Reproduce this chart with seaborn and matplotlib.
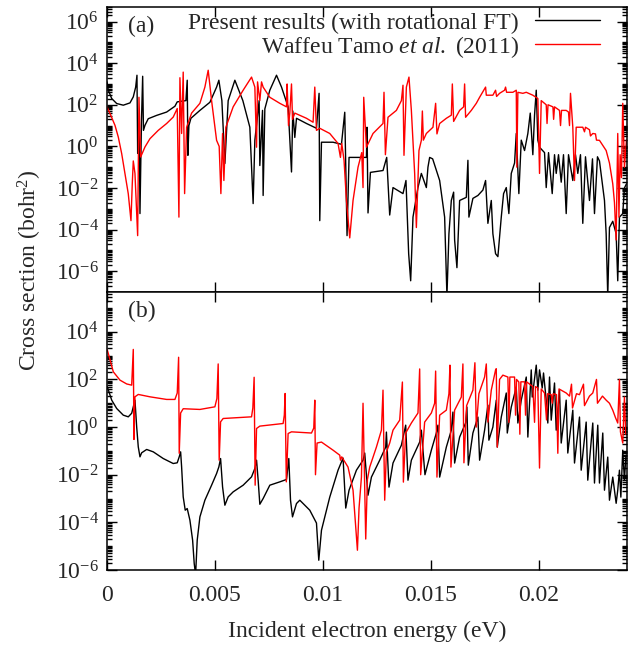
import numpy as np
import pandas as pd
import matplotlib
matplotlib.use("Agg")
import matplotlib.pyplot as plt
import matplotlib.ticker as mticker
import seaborn as sns

# ---------------- data ----------------
# energies in meV (converted to eV below), cross sections as log10(bohr^2)
a_black_E = [0.000, 0.060, 0.218, 0.449, 0.755, 1.065, 1.218, 1.329, 1.389, 1.421, 1.495, 1.528, 1.597, 1.653,
             1.690, 1.759, 1.912, 2.301, 2.764, 3.148, 3.255, 3.657, 3.718, 3.750, 3.796, 3.889, 4.306, 4.769,
             5.079, 5.185, 5.324, 5.463, 5.616, 5.926, 6.296, 6.620, 6.773, 6.852, 7.051, 7.083, 7.208, 7.236,
             7.315, 7.546, 7.856, 8.088, 8.394, 8.551, 8.611, 8.704, 8.782, 9.245, 9.708, 9.829, 9.861, 9.940,
             10.477, 10.866, 11.019, 11.125, 11.218, 12.023, 12.051, 12.097, 12.208, 12.792, 12.963, 13.102,
             13.255, 13.718, 13.856, 13.981, 14.074, 14.181, 14.412, 14.569, 14.801, 14.875, 14.954, 15.093,
             15.417, 15.648, 15.755, 15.847, 15.958, 16.065, 16.111, 16.218, 16.343, 16.653, 16.727, 16.773,
             16.958, 17.190, 17.421, 17.546, 17.653, 17.810, 17.884, 18.009, 18.116, 18.273, 18.380, 18.505,
             18.625, 18.736, 18.889, 18.968, 19.088, 19.199, 19.352, 19.505, 19.616, 19.736, 19.815, 19.894,
             19.968, 20.046, 20.278, 20.356, 20.463, 20.634, 20.741, 20.819, 20.926, 21.051, 21.157, 21.282,
             21.389, 21.588, 21.713, 21.819, 21.944, 22.051, 22.176, 22.361, 22.500, 22.593, 22.731, 22.824,
             23.056, 23.134, 23.208, 23.287, 23.440, 23.597, 23.671, 23.750, 23.903, 23.981, 24.074]
a_black_logS = [3.1, 2.7, 2.3, 2.06, 1.98, 2.09, 2.38, 2.85, 3.42, -0.34, 1.0, -3.23, 1.2, 3.37,
                0.77, 1.01, 1.33, 1.49, 1.65, 1.93, 2.14, 2.2, 3.18, -0.43, 1.0, 1.35, 1.73, 2.12,
                2.85, 3.18, 2.2, -0.82, 2.2, 3.18, 2.2, 0.92, -2.75, 0.29, 2.2, -0.92, 1.73, -2.36,
                1.8, 2.7, 3.42, 2.85, 1.9, -1.23, 1.7, 0.43, 1.35, 1.1, 0.87, 2.55, -3.57, 0.2,
                0.2, 0.1, 1.64, -4.29, -0.53, -0.53, 0.92, -3.2, -1.25, -1.16, -0.53, -3.3,
                -1.98, -2.27, -1.64, -5.16, -6.46, -3.4, -1.98, -1.3, -1.98, -1.0, -0.53, -0.6,
                -1.64, -3.4, -7.2, -4.2, -2.6, -2.2, -4.5, -5.83, -2.6, -2.45, -0.67, -3.4,
                -2.5, -2.36, -2.1, -1.64, -3.7, -2.6, -4.2, -5.16, -5.3, -3.4, -2.27, -1.98,
                -3.23, -1.3, -0.8, 0.62, -2.27, 0.3, -0.2, 0.62, 1.6, -0.4, 1.5, 2.7,
                0.3, -0.04, -0.3, -1.98, -0.3, -2.27, -0.4, -1.3, -0.4, -1.72, -0.4, -3.23,
                -0.4, -1.64, -0.4, -1.3, -0.4, -3.7, -0.5, -2.6, -0.6, -3.23, -0.5, -0.7,
                -2.6, -4.2, -7.2, -3.9, -3.6, -4.2, -6.46, -3.4, -3.23, -2.0, -1.8]

a_red_E = [0.000, 0.139, 0.370, 0.523, 0.681, 0.833, 0.986, 1.111, 1.171, 1.218, 1.296, 1.421, 1.481, 1.560,
           1.759, 1.991, 2.375, 2.764, 3.070, 3.255, 3.333, 3.380, 3.458, 3.532, 3.597, 3.690, 3.921, 4.306,
           4.537, 4.690, 4.847, 5.079, 5.199, 5.278, 5.356, 5.417, 5.509, 5.847, 6.310, 6.699, 6.852, 6.931,
           6.977, 7.083, 7.162, 7.236, 7.546, 8.009, 8.319, 8.347, 8.412, 8.472, 8.551, 8.597, 8.704, 9.245,
           9.551, 9.630, 9.708, 9.861, 10.324, 10.708, 10.819, 10.880, 10.986, 11.097, 11.250, 11.403, 11.634,
           11.806, 11.866, 11.898, 12.023, 12.329, 12.792, 12.838, 12.903, 13.023, 13.412, 13.644, 13.718,
           13.764, 13.875, 13.995, 14.106, 14.259, 14.338, 14.458, 14.569, 14.616, 14.662, 14.801, 15.107,
           15.231, 15.292, 15.417, 15.727, 15.958, 16.005, 16.065, 16.343, 16.528, 16.574, 16.620, 16.884,
           17.116, 17.269, 17.546, 17.579, 17.884, 18.009, 18.056, 18.194, 18.426, 18.472, 18.519, 18.810,
           18.968, 18.995, 19.042, 19.273, 19.431, 19.736, 19.968, 20.046, 20.125, 20.356, 20.394, 20.440,
           20.667, 20.699, 20.741, 20.972, 21.019, 21.065, 21.282, 21.389, 21.435, 21.481, 21.588, 21.667,
           21.745, 22.051, 22.130, 22.176, 22.361, 22.407, 22.514, 22.639, 22.685, 22.824, 23.134, 23.287,
           23.440, 23.519, 23.597, 23.671, 23.727, 23.782, 23.843, 23.903, 23.981, 24.074]
a_red_logS = [1.9, 1.58, 1.01, 0.45, -0.35, -1.32, -2.28, -3.57, -1.8, -0.7, -1.3, -4.29, 2.36, -0.51,
              -0.03, 0.37, 0.77, 1.1, 1.41, 1.82, -3.4, 3.3, 0.62, 3.57, -2.27, 0.92, 1.6, 2.07,
              2.85, 3.66, 2.2, 0.29, 0.0, -2.27, 0.62, -1.64, 0.92, 1.9, 2.7, 3.33, 2.85, -0.04,
              3.1, 2.2, 3.1, 2.85, 2.36, 2.07, 1.9, 3.0, 1.0, 1.6, 3.0, 1.3, 1.6, 1.35,
              1.16, 2.85, 0.77, 0.87, 0.62, 0.14, -0.53, 0.14, -0.67, -2.6, -4.4, -2.6, -1.0,
              -0.3, -1.98, 2.36, -0.04, 0.62, 1.1, 2.6, -0.4, 1.4, 1.73, 2.2, 2.94,
              -0.43, 2.85, 3.33, 1.73, -1.3, -3.9, -0.2, 0.29, 1.7, 0.3, 0.62, 0.92,
              2.07, 0.6, 1.1, 1.35, 1.5, 3.0, 1.2, 1.73, 1.9, 3.0, 1.4, 1.73,
              2.07, 2.36, 2.85, 2.46, 2.46, 2.7, 2.4, 2.55, 2.7, 2.85, 2.6, 2.6,
              2.7, -1.0, 2.6, 2.55, 2.6, 2.46, 2.3, -1.3, 2.2, 2.0, 1.1, 2.0,
              1.9, 1.3, 1.9, 1.73, 1.0, 1.73, 1.73, 1.65, 1.0, 2.55, 0.92, -1.64,
              0.92, 0.92, 0.7, 0.92, 0.8, 0.5, 0.62, 0.6, 0.3, 0.29, -0.2, -0.8,
              -1.8, -2.7, -4.5, 0.62, -3.4, -0.4, -1.5, 2.07, -1.0, 0.3]

b_black_E = [0.014, 0.218, 0.449, 0.755, 0.986, 1.144, 1.218, 1.296, 1.375, 1.449, 1.528, 1.606, 1.838, 2.144,
             2.606, 3.069, 3.255, 3.347, 3.412, 3.458, 3.532, 3.625, 3.718, 3.843, 3.968, 4.042, 4.106, 4.181,
             4.306, 4.537, 4.847, 5.079, 5.185, 5.264, 5.356, 5.463, 5.616, 5.847, 6.310, 6.699, 6.852, 6.931,
             7.005, 7.083, 7.236, 7.546, 8.009, 8.319, 8.426, 8.505, 8.597, 8.782, 8.935, 9.398, 9.708, 9.815,
             9.940, 10.324, 10.708, 10.940, 11.065, 11.218, 11.560, 11.866, 11.944, 12.097, 12.255, 12.639,
             12.917, 12.949, 13.069, 13.255, 13.644, 13.843, 13.949, 14.106, 14.491, 14.569, 14.736, 15.032,
             15.264, 15.338, 15.417, 15.727, 15.958, 16.032, 16.111, 16.343, 16.620, 16.681, 16.745, 16.958,
             17.190, 17.269, 17.500, 17.653, 17.699, 17.884, 18.042, 18.088, 18.273, 18.505, 18.551, 18.736,
             18.968, 19.042, 19.199, 19.431, 19.505, 19.662, 19.708, 19.894, 19.968, 20.046, 20.171, 20.231,
             20.356, 20.430, 20.509, 20.588, 20.741, 20.819, 20.972, 21.051, 21.282, 21.356, 21.588, 21.667,
             21.898, 21.977, 22.208, 22.282, 22.514, 22.593, 22.745, 22.824, 22.977, 23.056, 23.208, 23.287,
             23.440, 23.597, 23.671, 23.750, 23.815, 23.903, 23.981, 24.051]
b_black_logS = [1.69, 1.13, 0.78, 0.5, 0.43, 0.58, 0.85, 1.13, 0.01, -0.83, -1.25, -1.08, -0.94, -1.04,
                -1.32, -1.53, -1.5, -1.25, -1.04, -1.67, -2.93, -3.49, -3.42, -3.91, -4.75, -5.73, -6.2, -4.75,
                -3.77, -3.07, -2.44, -1.95, -1.67, -1.32, -2.51, -3.28, -2.93, -2.72, -2.44, -2.09, -1.74, -1.39,
                -2.23, -3.24, -3.0, -2.44, -2.3, -2.2, -1.32, -3.07, -3.77, -3.21, -3.07, -3.49, -4.03, -5.59,
                -4.33, -2.94, -1.81, -1.3, -3.4, -2.65, -1.81, -1.39, -1.09, -2.86, -2.1, -1.39,
                -0.84, -0.21, -2.52, -1.51, -0.76, 0.08, -2.23, -1.39, -0.63, -0.13, -2.0, -0.97,
                -0.25, 0.08, -2.1, -0.84, -0.13, 0.63, -1.51, -0.42, 0.17, 0.84, -1.6, -0.25,
                0.42, -1.39, -0.13, 0.92, -0.55, 0.0, 1.13, -0.84, 0.42, 1.43, -0.25, 0.84,
                1.68, 0.17, 1.13, 2.1, -0.42, 2.4, 1.26, 2.6, 1.55, 2.4, 1.64, 2.27,
                1.13, 0.17, 2.1, 0.29, 1.85, -0.13, 1.55, -0.67, 1.13, -1.09, 0.71, -1.51,
                0.42, -1.81, 0.21, -2.23, 0.17, -2.35, 0.08, -2.35, -0.25, -2.65, -1.26, -3.07,
                -2.1, -3.2, -2.65, -1.81, -2.94, -0.97, -2.23, -1.18]

b_red_E = [0.014, 0.292, 0.602, 0.912, 1.144, 1.218, 1.250, 1.296, 1.449, 1.991, 2.764, 3.148, 3.255, 3.319,
           3.347, 3.412, 3.532, 4.306, 5.000, 5.093, 5.153, 5.199, 5.264, 5.384, 6.699, 6.759, 6.819, 6.866,
           6.931, 7.083, 8.162, 8.218, 8.255, 8.310, 8.394, 8.551, 9.477, 9.583, 9.630, 9.662, 9.736, 9.940,
           10.477, 10.787, 10.819, 10.880, 11.171, 11.403, 11.514, 11.606, 11.681, 11.792, 11.866, 11.931,
           11.991, 12.069, 12.176, 12.486, 12.718, 12.792, 12.870, 12.949, 13.102, 13.255, 13.565, 13.690,
           13.736, 13.843, 14.106, 14.412, 14.491, 14.537, 14.722, 15.032, 15.185, 15.231, 15.292, 15.417,
           15.727, 15.847, 15.894, 15.940, 16.111, 16.421, 16.495, 16.542, 16.667, 16.958, 17.051, 17.116,
           17.236, 17.500, 17.579, 17.653, 17.810, 18.009, 18.041, 18.088, 18.194, 18.347, 18.579, 18.625,
           18.671, 18.889, 18.935, 18.981, 19.088, 19.134, 19.181, 19.352, 19.398, 19.444, 19.736, 19.815,
           19.861, 19.968, 20.046, 20.125, 20.278, 20.370, 20.417, 20.588, 20.634, 20.681, 20.833, 20.894,
           20.949, 21.282, 21.435, 21.528, 21.574, 21.759, 21.898, 22.083, 22.130, 22.361, 22.514, 22.685,
           22.731, 22.963, 23.134, 23.287, 23.440, 23.565, 23.671, 23.750, 23.796, 23.903, 23.981, 24.042]
b_red_logS = [3.24, 2.32, 1.97, 1.81, 1.76, 3.26, -0.52, 1.27, 1.37, 1.27, 1.16, 1.16, 1.43, 2.93,
              -1.1, 0.59, 0.77, 0.74, 0.85, 1.2, 2.65, -1.39, 0.22, 0.36, 0.43, 0.8, 2.09, -2.44,
              -0.06, 0.04, 0.15, 0.5, 1.41, -2.3, -0.27, -0.2, -0.25, -0.04, 1.13, -2.0, -0.67, -0.63,
              -0.97, -1.18, -1.39, -1.25, -1.68, -2.65, -4.0, -5.17, -3.4, -2.1, 1.0, -2.0,
              -4.7, -2.2, -1.68, -0.84, -0.13, 1.55, -3.07, -1.05, -0.67, -0.13, 0.29, 1.89,
              -2.31, -0.25, 0.17, 0.59, 2.44, -2.0, 0.21, 0.59, 1.0, 2.35, -2.1, 0.5,
              0.71, 1.4, 2.6, -1.68, 0.71, 1.26, 2.65, -1.5, 0.9, 1.55, 2.7, 0.0,
              1.4, 2.1, 2.65, 0.21, 1.55, 2.4, 2.45, -0.84, 2.0, 2.18, 2.1, 0.2,
              2.1, 2.1, 0.5, 2.0, 1.89, -0.3, 1.9, 1.9, 0.5, 1.9, 1.7, 0.2,
              1.7, 1.64, -1.72, 1.6, 1.43, 0.3, 1.4, 1.36, 1.0, 1.4, 1.36, -1.1,
              1.6, 1.43, 1.3, 1.8, 0.8, 1.4, 1.36, 1.8, 0.9, 1.3, 1.43, 2.0,
              1.0, 1.3, 1.13, 1.0, 0.71, 0.4, 0.17, 2.0, -0.2, -0.67, 1.26, -0.3]

label_black = "Present results (with rotational FT)"
label_red = "Waffeu Tamo $\\mathit{et\\ al.}$ (2011)"
x_ticks = [0, 0.005, 0.01, 0.015, 0.02]
x_ticklabels = ["0", "0.005", "0.01", "0.015", "0.02"]


def frame(E, logS, panel, series):
    return pd.DataFrame({"energy": np.asarray(E) / 1000.0,
                         "sigma": 10.0 ** np.asarray(logS),
                         "panel": panel, "series": series})


# ---------------- style ----------------
sns.set_theme(style="ticks")
plt.rcParams["font.family"] = ["Liberation Serif", "DejaVu Serif"]
plt.rcParams["mathtext.fontset"] = "custom"
plt.rcParams["mathtext.rm"] = "Liberation Serif"
plt.rcParams["mathtext.it"] = "Liberation Serif:italic"
plt.rcParams["mathtext.bf"] = "Liberation Serif:bold"
plt.rcParams["axes.unicode_minus"] = False
FS = 17

fig = plt.figure(figsize=(6.39, 6.48), dpi=100)
L, R = 107 / 639, 627 / 639
ax_a = fig.add_axes([L, 1 - 292 / 648, R - L, (292 - 7) / 648])
ax_b = fig.add_axes([L, 1 - 570 / 648, R - L, (570 - 292) / 648])

panels = {
    "a": (ax_a, [(a_black_E, a_black_logS, "black", label_black),
                 (a_red_E, a_red_logS, "red", label_red)]),
    "b": (ax_b, [(b_black_E, b_black_logS, "black", label_black),
                 (b_red_E, b_red_logS, "red", label_red)]),
}

for key, (ax, series) in panels.items():
    for E, S, col, lab in series:
        df = frame(E, S, key, lab)
        sns.lineplot(data=df, x="energy", y="sigma", ax=ax, color=col, lw=1.0,
                     estimator=None, sort=False, label=lab if key == "a" else None)
    ax.set_yscale("log")
    ax.set_xlim(0, 0.0241)
    ax.set_xticks(x_ticks)
    ax.xaxis.set_minor_locator(mticker.NullLocator())
    ax.yaxis.set_minor_locator(mticker.LogLocator(base=10.0, subs=np.arange(1, 10), numticks=40))
    ax.yaxis.set_minor_formatter(mticker.NullFormatter())
    ax.tick_params(which="both", direction="in", top=True, right=True, labelsize=FS,
                   width=1.0, color="black")
    ax.tick_params(which="major", length=7)
    ax.tick_params(which="minor", length=3.5)
    ax.tick_params(axis="y", pad=6)
    ax.tick_params(axis="x", pad=10.5)
    ax.set_xlabel("")
    ax.set_ylabel("")
    for sp in ax.spines.values():
        sp.set_linewidth(1.1)
        sp.set_color("black")

ax_a.set_ylim(1e-7, 10 ** 6.7)
ax_b.set_ylim(1e-6, 10 ** 5.67)
ax_a.yaxis.set_major_locator(mticker.FixedLocator([1e-6, 1e-4, 1e-2, 1, 1e2, 1e4, 1e6]))
ax_b.yaxis.set_major_locator(mticker.FixedLocator([1e-6, 1e-4, 1e-2, 1, 1e2, 1e4]))
ax_a.yaxis.set_major_formatter(mticker.LogFormatterSciNotation())
ax_b.yaxis.set_major_formatter(mticker.LogFormatterSciNotation())
ax_a.tick_params(axis="x", labelbottom=False)
ax_b.set_xticklabels(x_ticklabels)

ax_a.text(0.04, 0.93, "(a)", transform=ax_a.transAxes, fontsize=FS, va="center", ha="left")
ax_b.text(0.04, 0.93, "(b)", transform=ax_b.transAxes, fontsize=FS, va="center", ha="left")

leg = ax_a.legend(loc="upper right", bbox_to_anchor=(0.948, 0.982), frameon=False,
                  markerfirst=False, fontsize=FS, handlelength=2.75, handletextpad=0.68,
                  labelspacing=0.0, borderpad=0, borderaxespad=0)

ax_b.set_xlabel("Incident electron energy (eV)", fontsize=FS, labelpad=11)
fig.text(30 / 639, 1 - 270 / 648, "Cross section (bohr$^2$)", rotation=90,
         fontsize=FS, ha="center", va="center")

fig.savefig("out.png", dpi=100)
